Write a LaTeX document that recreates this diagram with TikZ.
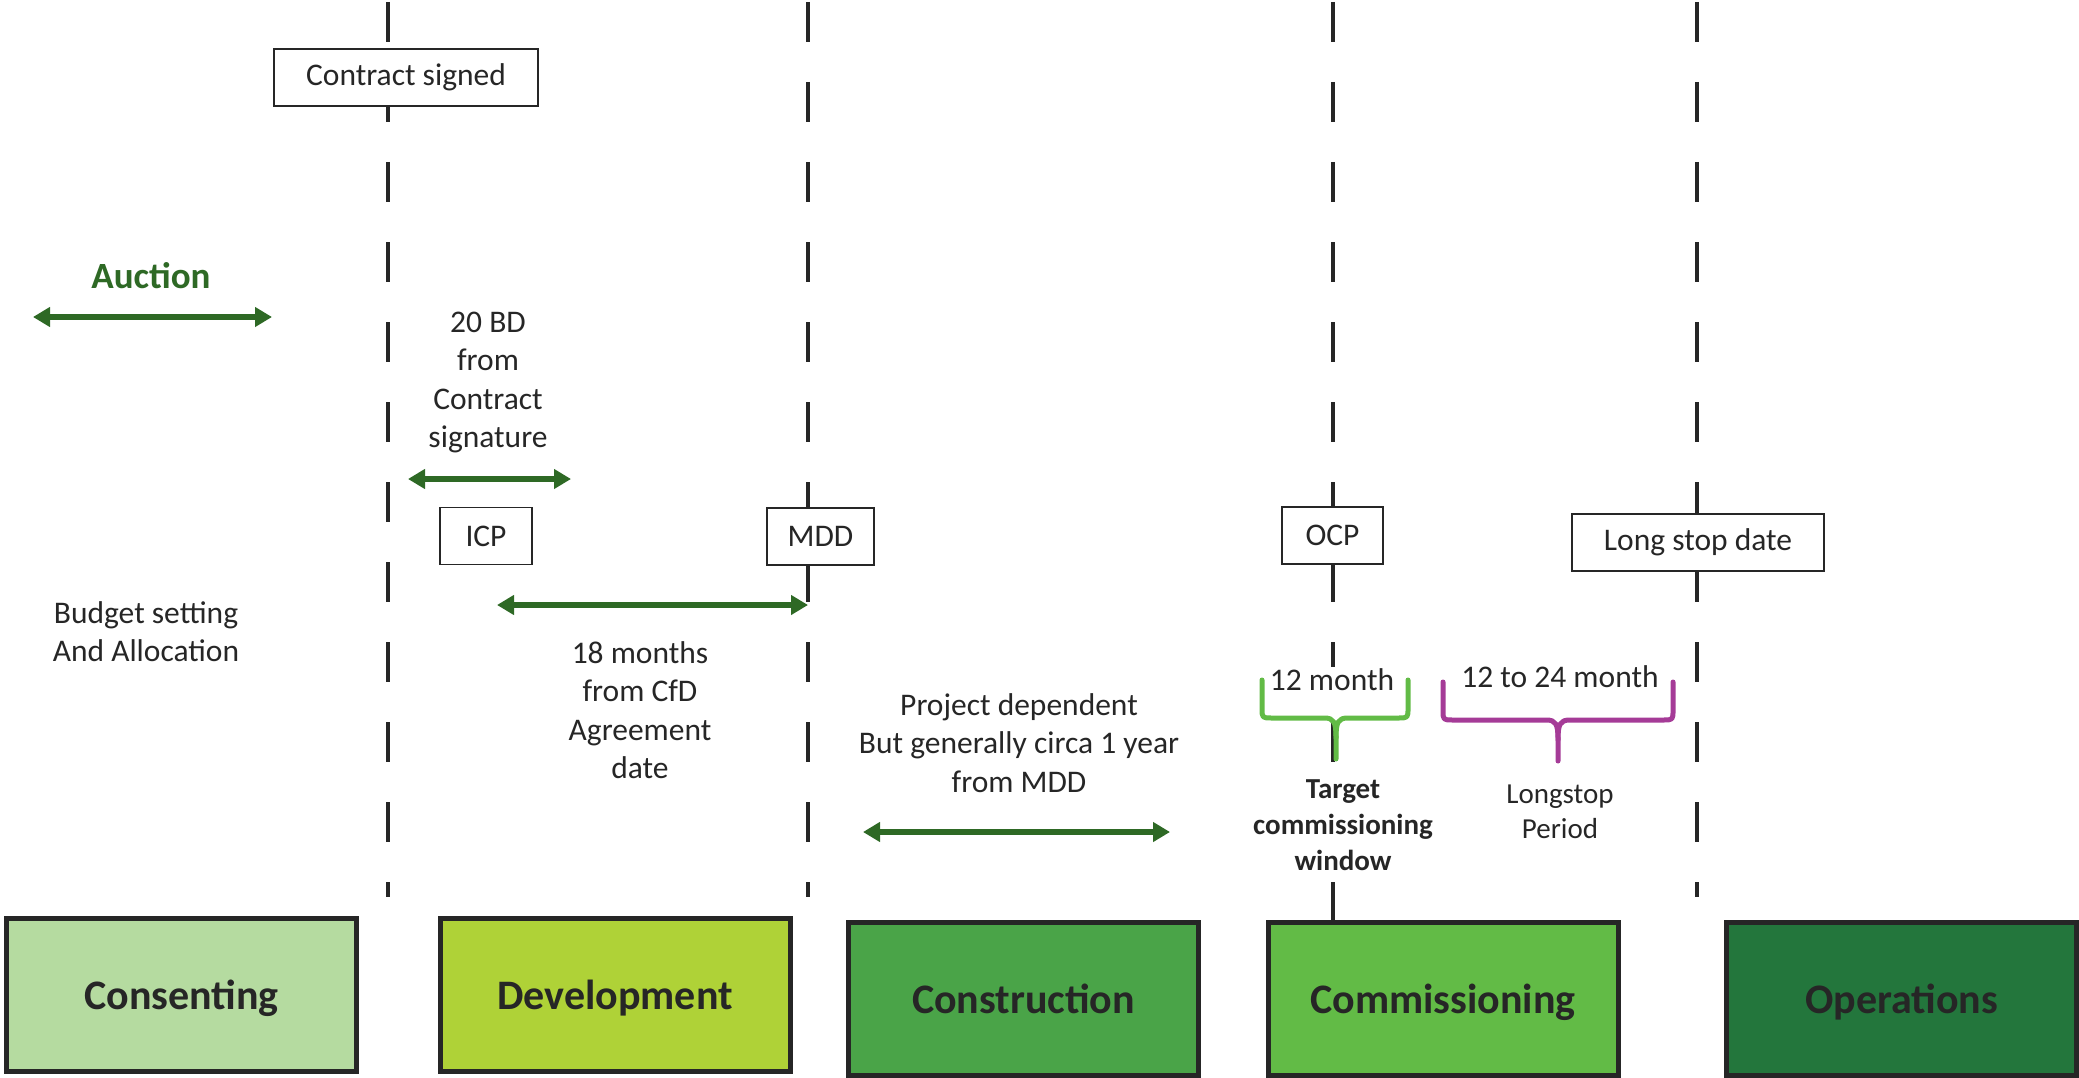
\documentclass[tikz,border=0pt]{standalone}
\usepackage{fontspec}
\setmainfont{Carlito}
\usepackage{xcolor}
\usepackage{tikz}
\usetikzlibrary{arrows.meta,positioning}

\definecolor{spangreen}{RGB}{46,105,37}
\definecolor{consentfill}{RGB}{181,219,160}
\definecolor{developfill}{RGB}{175,210,55}
\definecolor{constructfill}{RGB}{74,164,72}
\definecolor{commissionfill}{RGB}{98,187,70}
\definecolor{operatefill}{RGB}{35,118,60}
\definecolor{bracegreen}{RGB}{98,187,70}
\definecolor{bracepurple}{RGB}{165,59,151}
\definecolor{inkgray}{RGB}{38,38,38}

\begin{document}
\begin{tikzpicture}[x=1pt,y=-1pt,
      milestone/.style={
         line width=4.5pt,
         draw=inkgray,
         dash pattern=on 40pt off 40pt},
      mark_box/.style={
         draw=inkgray,
         line width=1.8pt,
         fill=white,
         minimum height=57pt,
         inner sep=0pt,
         text=inkgray,
         font=\fontsize{31.5}{38.5}\selectfont},
      phase_box/.style={
         draw=inkgray,
         line width=5pt,
         minimum width=350pt,
         minimum height=153pt,
         text depth=0pt,
         text=inkgray,
         font=\bfseries\fontsize{42}{50}\selectfont},
      span_arrow/.style={
         line width=6.5pt,
         draw=spangreen,
         >={Triangle[length=17pt,width=19pt]},
         <->},
      note/.style={
         align=center,
         text=inkgray,
         inner sep=2pt,
         font=\fontsize{31.5}{38.5}\selectfont},
      brace_line/.style={
         line width=5pt,
         line cap=round,
         line join=round},
]
      \useasboundingbox (0,0) rectangle (2079,1078);

      %milestone lines
      \foreach \nm/\x/\yb in {sig/388/897, mdd/808/897, ocp/1333/922, lsd/1697/897}{
        \coordinate (\nm_top) at (\x,2);
        \coordinate (\nm_bot) at (\x,\yb);
        \draw[milestone] (\nm_top) -- (\nm_bot);
      }

      %milestone boxes
      \node[mark_box,minimum width=264pt] (signed) at (406,77.5) {Contract signed};
      \node[mark_box,minimum width=92pt] (icp) at (486,536) {ICP};
      \node[mark_box,minimum width=107pt] (mdd) at (820.5,536.5) {MDD};
      \node[mark_box,minimum width=101pt] (ocp) at (1332.5,535.5) {OCP};
      \node[mark_box,minimum width=252pt] (lsd) at (1698,542.5) {Long stop date};

      %labels
      \node[note,text=spangreen,font=\bfseries\fontsize{37}{44}\selectfont] (auction) at (151,276) {Auction};
      \node[note] (bd) at (488,382.5) {20 BD\\from\\Contract\\signature};
      \node[note] (budget) at (146,631.5) {Budget setting\\And Allocation};
      \node[note] (cfd) at (640,710) {18 months\\from CfD\\Agreement\\date};
      \node[note] (project) at (1019,743) {Project dependent\\But generally circa 1 year\\from MDD};
      \node[note,fill=white] (twelve) at (1332,680) {12 month};
      \node[note] (longmonths) at (1560,677) {12 to 24 month};
      \node[note,fill=white,font=\bfseries\fontsize{29}{36}\selectfont] (target) at (1343,825) {Target\\commissioning\\window};
      \node[note,font=\fontsize{29}{35}\selectfont] (longstop) at (1560,811.5) {Longstop\\Period};

      %span arrows
      \coordinate (auc_l) at (33,317);
      \coordinate (auc_r) at (272,317);
      \coordinate (bd_l) at (408,479);
      \coordinate (bd_r) at (571,479);
      \coordinate (cfd_l) at (497,605);
      \coordinate (cfd_r) at (808,605);
      \coordinate (con_l) at (863,832);
      \coordinate (con_r) at (1170,832);
      \foreach \i/\j in {auc_l/auc_r, bd_l/bd_r, cfd_l/cfd_r, con_l/con_r}
        \draw[span_arrow] (\i) -- (\j);

      %braces
      \foreach \l/\c/\r/\t/\b/\col in {1262/1336/1408/680/718/bracegreen, 1443/1558/1673/682/720/bracepurple}{
        \draw[brace_line,draw=\col] (\l,\t) -- (\l,\b-10) .. controls (\l,\b) .. (\l+10,\b)
          -- (\c-12,\b) .. controls (\c-2,\b) and (\c,\b+4) .. (\c,\b+20) -- (\c,\b+41);
        \draw[brace_line,draw=\col] (\r,\t) -- (\r,\b-10) .. controls (\r,\b) .. (\r-10,\b)
          -- (\c+12,\b) .. controls (\c+2,\b) and (\c,\b+4) .. (\c,\b+20);
      }

      %phases
      \node[phase_box,fill=consentfill] (consenting) at (181.5,995) {Consenting};
      \node[phase_box,fill=developfill] (development) at (615,995) {Development};
      \node[phase_box,fill=constructfill] (construction) at (1023.5,999) {Construction};
      \node[phase_box,fill=commissionfill] (commissioning) at (1443,999) {Commissioning};
      \node[phase_box,fill=operatefill] (operations) at (1901.5,999) {Operations};

\end{tikzpicture}
\end{document}
